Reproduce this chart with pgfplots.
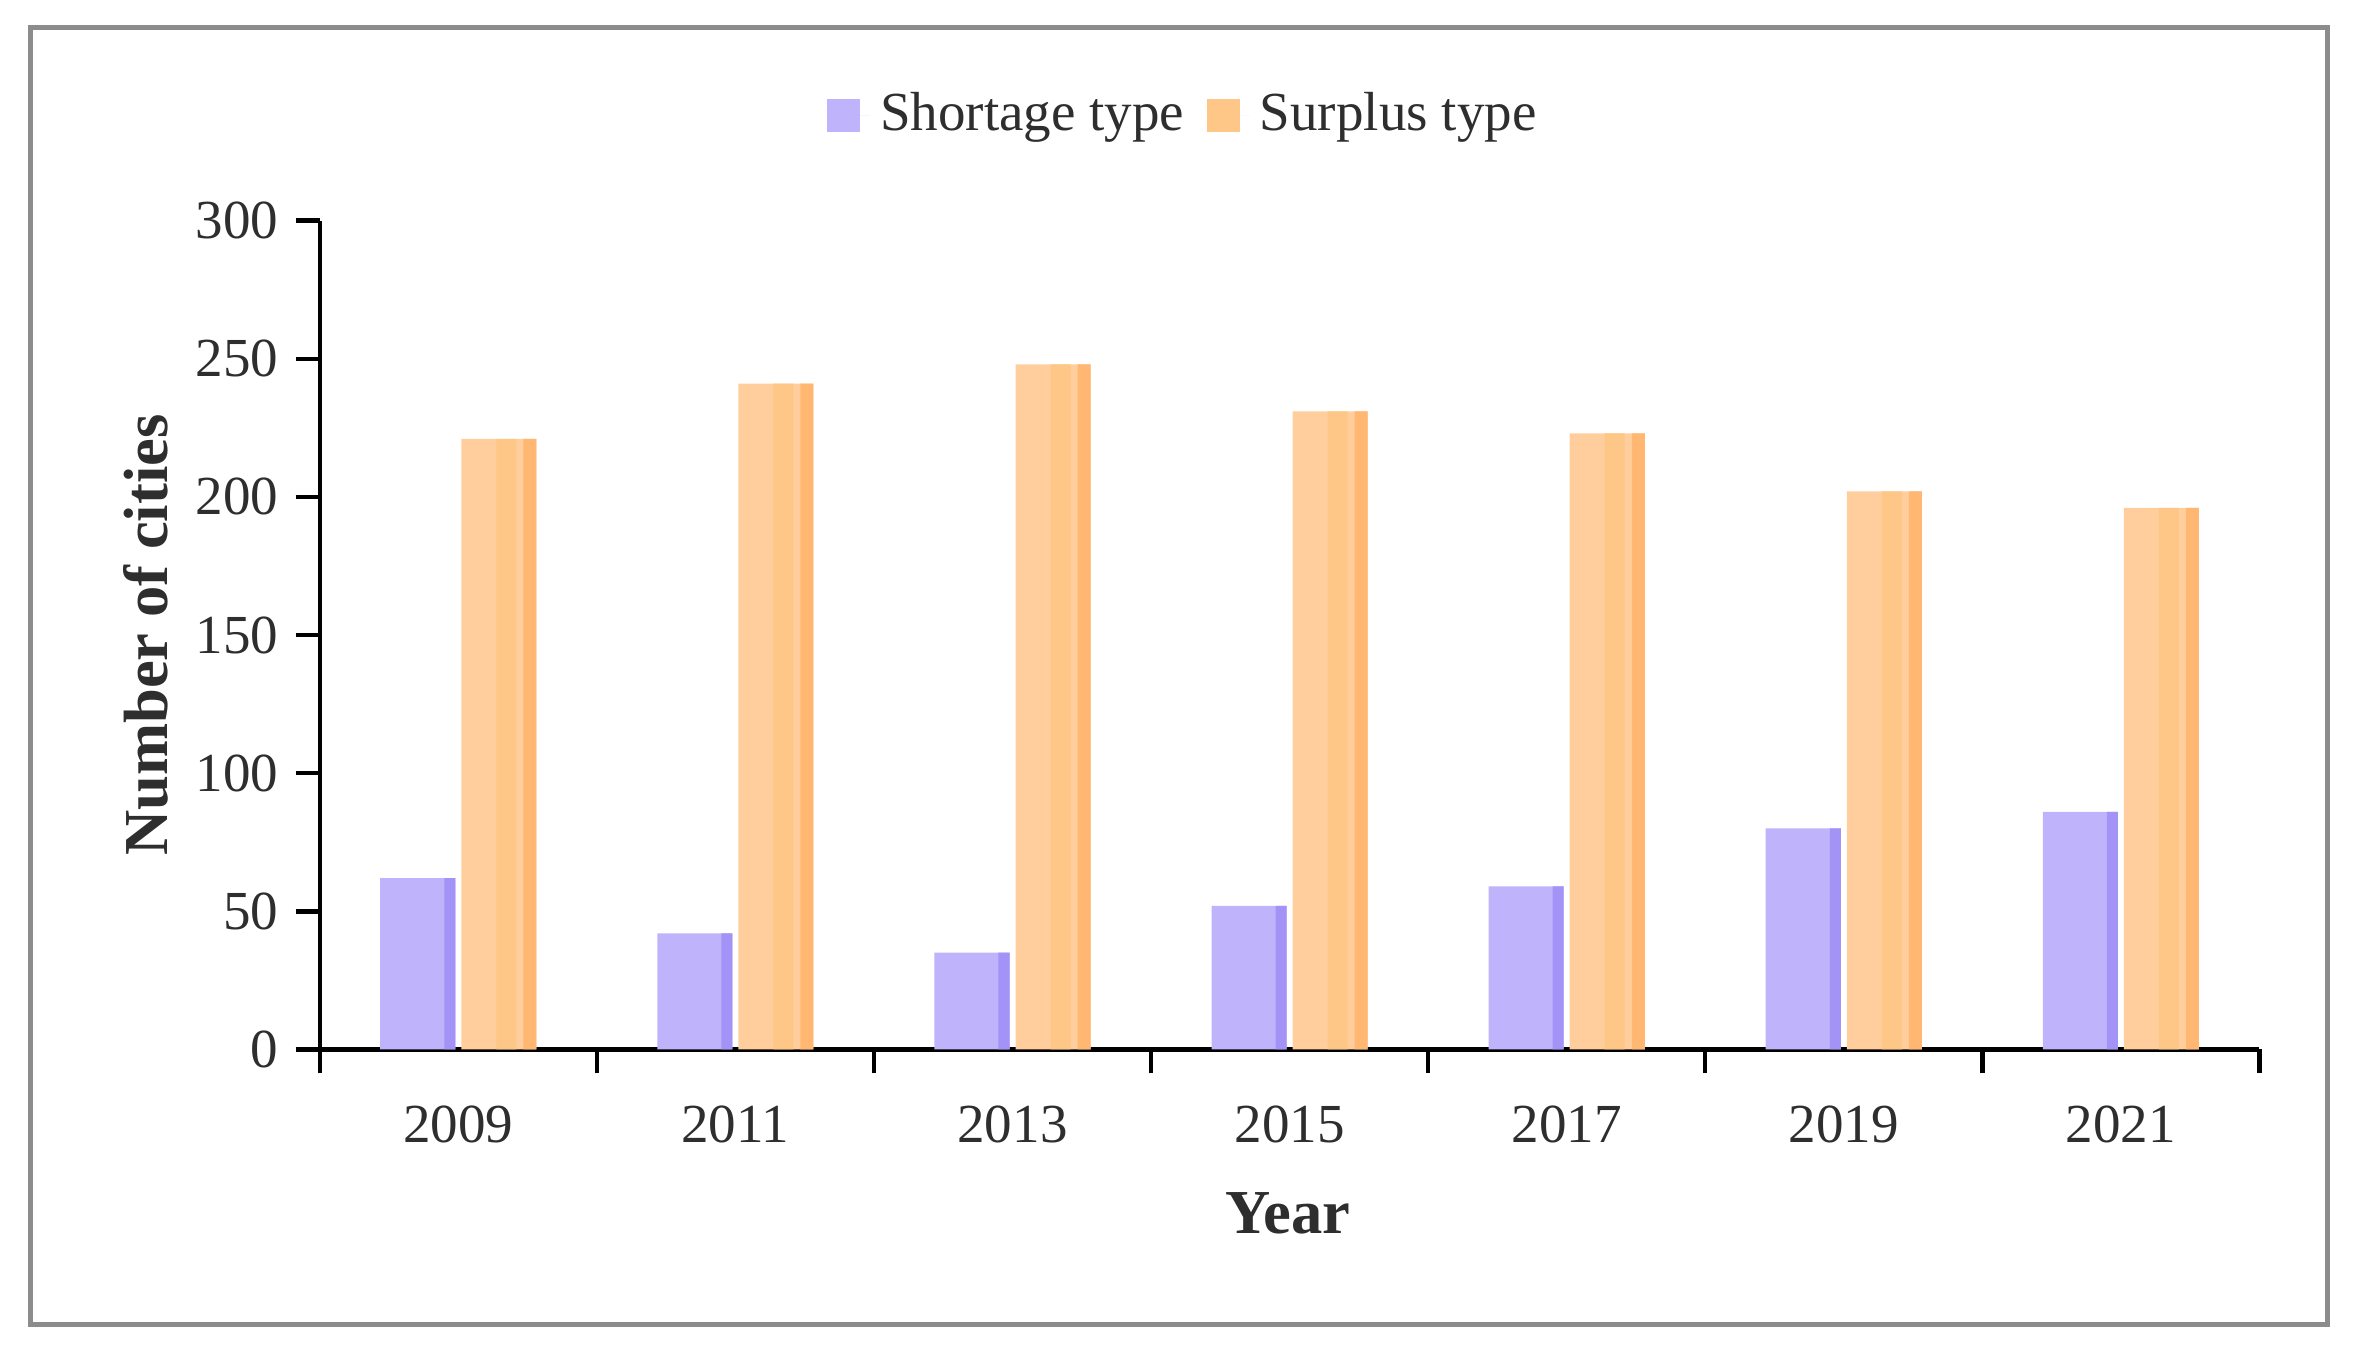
\documentclass[border=0pt]{standalone}
\usepackage{fontspec}
\setmainfont{Liberation Serif}
\usepackage{pgfplots}
\pgfplotsset{compat=1.18}

\definecolor{shortL}{HTML}{BFB3FC}
\definecolor{shortR}{HTML}{A393F7}
\definecolor{surpA}{HTML}{FFCE9C}
\definecolor{surpB}{HTML}{FFC787}
\definecolor{surpR}{HTML}{FFB772}
\definecolor{frame}{HTML}{8C8C8C}
\definecolor{txt}{HTML}{2E2E2E}

\pgfplotstableread{
x short surp
0 62 221
1 42 241
2 35 248
3 52 231
4 59 223
5 80 202
6 86 196
}\cities

\begin{document}
\begin{tikzpicture}
\useasboundingbox (-63.9pt,-60.3pt) rectangle (406.5pt,209.7pt);
\draw[frame, line width=1pt] (-57.9pt,-54.9pt) rectangle (401.1pt,204.3pt);
\begin{axis}[
    scale only axis,
    width=387.6pt, height=165.6pt,
    xmin=-0.5, xmax=6.5,
    ymin=0, ymax=300,
    ybar,
    axis x line=bottom, axis y line=left,
    axis line style={-, line width=0.9pt, black},
    tick align=outside,
    major tick length=4.8pt,
    tick style={line width=0.9pt, black},
    xtick={-0.5,0.5,...,6.5},
    x tick label as interval,
    xticklabels={2009,2011,2013,2015,2017,2019,2021},
    ytick={0,50,...,300},
    ticklabel style={font=\fontsize{11}{13}\selectfont, text=txt},
    xticklabel style={yshift=-3pt},
    /pgf/number format/assume math mode=true,
    ylabel={Number of cities},
    ylabel style={at={(axis description cs:-0.0898,0.5)}, anchor=center,
        font=\bfseries\fontsize{12.5}{15}\selectfont, text=txt},
    xlabel={Year},
    xlabel style={at={(axis description cs:0.499,-0.1975)}, anchor=center,
        font=\bfseries\fontsize{12.5}{15}\selectfont, text=txt},
    legend columns=-1,
    legend style={at={(0.447,1.127)}, anchor=center, draw=none, fill=none,
        font=\fontsize{11}{13}\selectfont, text=txt,
        /tikz/every even column/.append style={column sep=2.5pt}},
]
% shortage: face and darker right edge
\addplot[bar width=15pt, bar shift=-8.1pt, draw=none, fill=shortL,
    legend image code/.code={\fill[shortL] (0pt,-3.3pt) rectangle (6.6pt,3.3pt);
        \path (0pt,0pt) -- (8.6pt,0pt);}]
    table[x=x, y=short] {\cities};
\addlegendentry{Shortage type}
\addplot[bar width=2.2pt, bar shift=-1.7pt, draw=none, fill=shortR, forget plot]
    table[x=x, y=short] {\cities};
% surplus: face, middle stripe and darker right edge
\addplot[bar width=15pt, bar shift=8.1pt, draw=none, fill=surpA,
    legend image code/.code={\fill[surpB] (0pt,-3.3pt) rectangle (6.6pt,3.3pt);
        \path (0pt,0pt) -- (8.6pt,0pt);}]
    table[x=x, y=surp] {\cities};
\addlegendentry{Surplus type}
\addplot[bar width=4pt, bar shift=9.6pt, draw=none, fill=surpB, forget plot]
    table[x=x, y=surp] {\cities};
\addplot[bar width=2.6pt, bar shift=14.3pt, draw=none, fill=surpR, forget plot]
    table[x=x, y=surp] {\cities};
\end{axis}
\end{tikzpicture}
\end{document}
